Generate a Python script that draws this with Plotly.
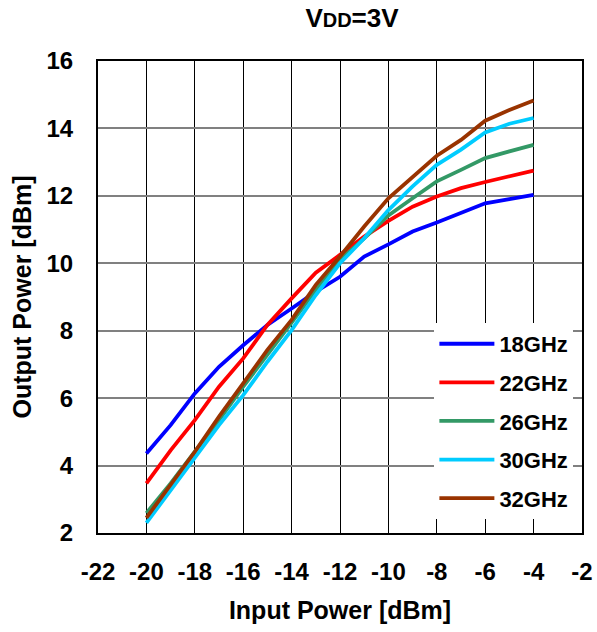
import plotly.graph_objects as go

pin = [-20, -19, -18, -17, -16, -15, -14, -13, -12, -11, -10, -9, -8, -7, -6, -5, -4]

pout_18 = [4.36, 5.20, 6.14, 6.93, 7.57, 8.17, 8.66, 9.16, 9.60, 10.20, 10.56, 10.94, 11.21, 11.49, 11.78, 11.90, 12.03]
pout_22 = [3.47, 4.45, 5.35, 6.34, 7.18, 8.17, 8.96, 9.72, 10.25, 10.79, 11.26, 11.68, 11.98, 12.23, 12.41, 12.57, 12.75]
pout_26 = [2.59, 3.47, 4.41, 5.35, 6.34, 7.28, 8.24, 9.21, 10.10, 10.74, 11.42, 11.93, 12.43, 12.77, 13.12, 13.32, 13.51]
pout_30 = [2.30, 3.27, 4.26, 5.20, 6.09, 7.08, 8.02, 9.06, 10.00, 10.74, 11.58, 12.28, 12.92, 13.37, 13.88, 14.14, 14.31]
pout_32 = [2.45, 3.42, 4.41, 5.45, 6.44, 7.43, 8.32, 9.36, 10.20, 11.09, 11.93, 12.57, 13.19, 13.66, 14.23, 14.55, 14.83]

series_names = ["18GHz", "22GHz", "26GHz", "30GHz", "32GHz"]
series_vals = [pout_18, pout_22, pout_26, pout_30, pout_32]
colors = ["#0000FF", "#FF0000", "#339966", "#00CCFF", "#993300"]

x_tickvals = [-22, -20, -18, -16, -14, -12, -10, -8, -6, -4, -2]
x_ticktext = ["-22", "-20", "-18", "-16", "-14", "-12", "-10", "-8", "-6", "-4", "-2"]
y_tickvals = [2, 4, 6, 8, 10, 12, 14, 16]

FF = "Liberation Sans, Arial, sans-serif"

fig = go.Figure()
for name, vals, c in zip(series_names, series_vals, colors):
    fig.add_trace(go.Scatter(
        x=pin, y=vals, mode="lines", name=name, legendgroup=name,
        line=dict(color=c, width=3.8),
    ))

fig.update_layout(
    width=597, height=632,
    margin=dict(l=98, r=15, t=61, b=99),
    paper_bgcolor="white", plot_bgcolor="white",
    font=dict(family=FF, size=24, color="black"),
    title=dict(
        text="<b>V<span style='font-size:20px'>DD</span>=3V</b>",
        x=352 / 597, xanchor="center", y=1 - 18 / 632, yanchor="middle",
        font=dict(family=FF, size=26, color="black"),
        automargin=False,
    ),
    xaxis=dict(
        range=[-22, -2], tickvals=x_tickvals, ticktext=x_ticktext,
        showgrid=True, gridcolor="black", gridwidth=1,
        showline=True, linecolor="black", linewidth=2, mirror=True,
        zeroline=False, ticks="", automargin=False,
        tickfont=dict(size=24, family=FF, weight="bold"),
        ticklabelstandoff=16,
        title=dict(text="<b>Input Power [dBm]</b>", font=dict(size=25), standoff=18),
    ),
    yaxis=dict(
        range=[2, 16], tickvals=y_tickvals,
        showgrid=True, gridcolor="#808080", gridwidth=1.5,
        showline=True, linecolor="black", linewidth=2, mirror=True,
        zeroline=False, ticks="", automargin=False,
        tickfont=dict(size=24, family=FF, weight="bold"),
        ticklabelstandoff=18,
        title=dict(text="<b>Output Power [dBm]</b>", font=dict(size=25), standoff=8),
    ),
    legend=dict(
        x=0.695, y=0.445, xanchor="left", yanchor="top",
        bgcolor="white", borderwidth=0,
        font=dict(size=22, family=FF, weight="bold"),
        tracegroupgap=7, itemwidth=55,
    ),
    showlegend=True,
)

fig.write_html(
    "out.html",
    config={"displayModeBar": False},
    post_script="document.body.style.margin='0';document.body.style.padding='0';",
)
